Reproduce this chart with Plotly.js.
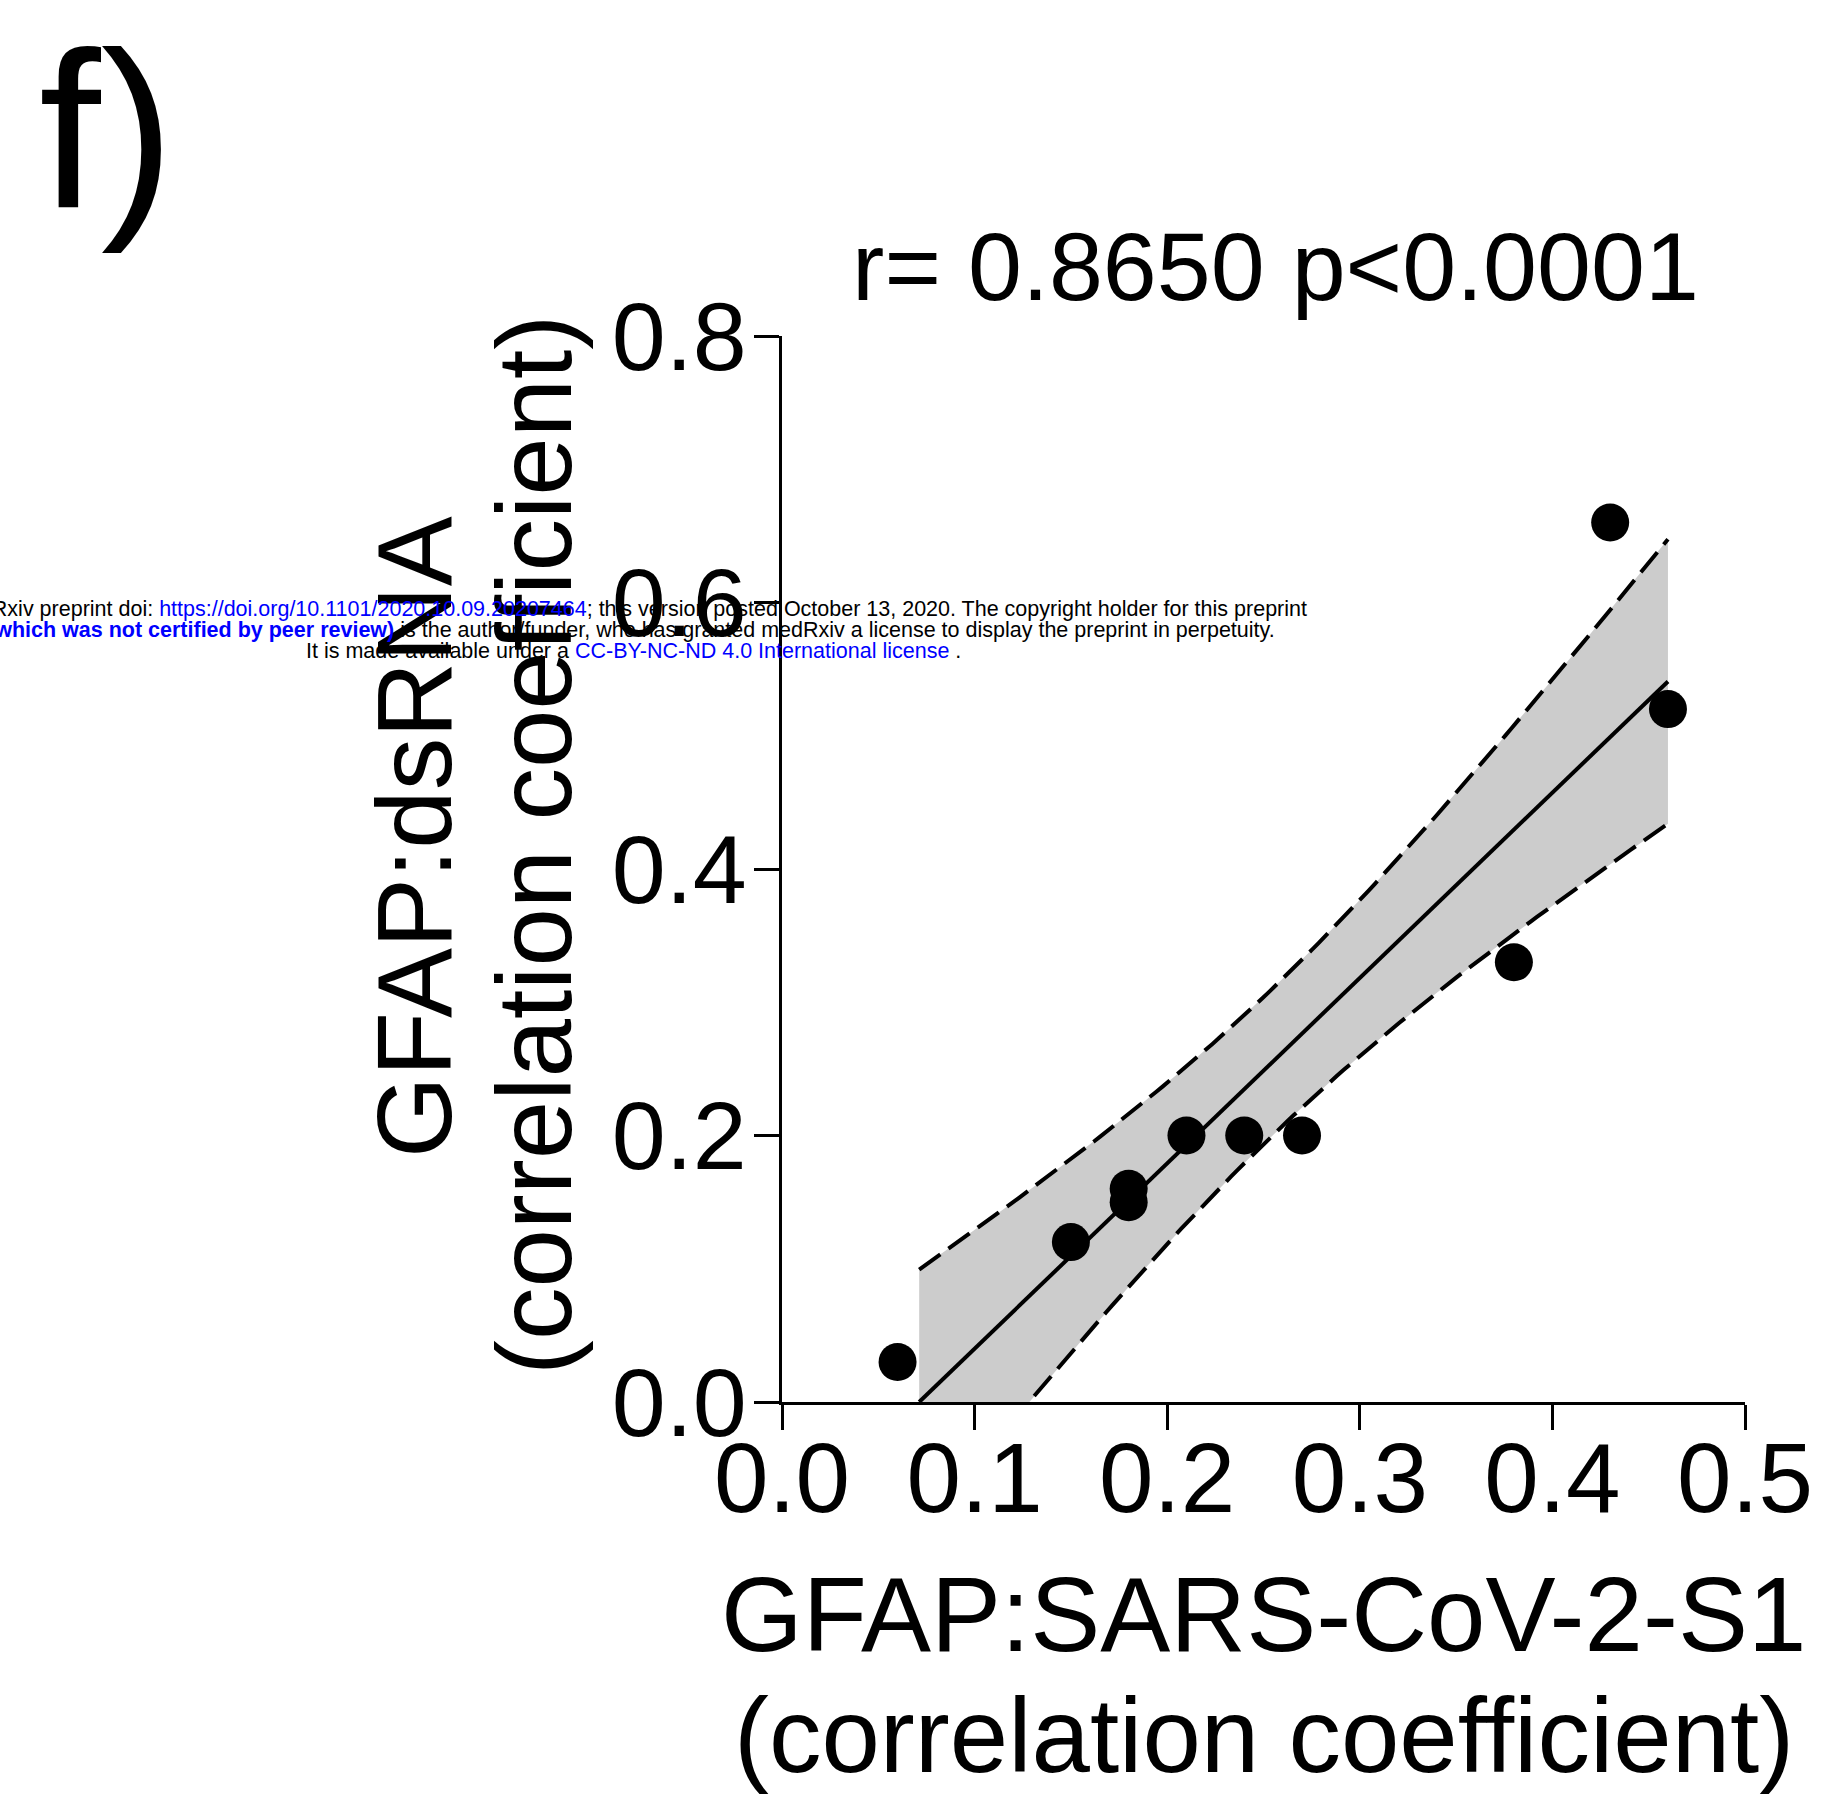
<!DOCTYPE html>
<html>
<head>
<meta charset="utf-8">
<script src="https://cdn.plot.ly/plotly-3.0.1.min.js"></script>
<style>html,body{margin:0;padding:0;background:#fff;}#chart{width:1829px;height:1798px;}</style>
</head>
<body>
<div id="chart"></div>
<script>
// Data
const xVals = [0.06, 0.15, 0.18, 0.18, 0.21, 0.24, 0.27, 0.38, 0.43, 0.46];
const yVals = [0.03, 0.12, 0.16, 0.15, 0.20, 0.20, 0.20, 0.33, 0.66, 0.52];
const titleText = "r= 0.8650 p&lt;0.0001";
const xTitleLines = ["GFAP:SARS-CoV-2-S1", "(correlation coefficient)"];
const yTitleLines = ["GFAP:dsRNA", "(correlation coefficient)"];
const panelLabel = "f)";
const xTickVals = [0, 0.1, 0.2, 0.3, 0.4, 0.5];
const yTickVals = [0, 0.2, 0.4, 0.6, 0.8];

// Linear regression with 95% confidence band of the fit
const n = xVals.length;
const mx = xVals.reduce((a, b) => a + b, 0) / n;
const my = yVals.reduce((a, b) => a + b, 0) / n;
let sxx = 0, sxy = 0;
for (let i = 0; i < n; i++) { sxx += (xVals[i] - mx) ** 2; sxy += (xVals[i] - mx) * (yVals[i] - my); }
const slope = sxy / sxx;
const intercept = my - slope * mx;
let ssr = 0;
for (let i = 0; i < n; i++) { const r = yVals[i] - (intercept + slope * xVals[i]); ssr += r * r; }
const s = Math.sqrt(ssr / (n - 2));
const tCrit = 2.306; // t(0.975, df = 8)
const xStart = Math.max(Math.min(...xVals), -intercept / slope);
const xEnd = Math.max(...xVals);
const bandX = [], fitY = [], upY = [], loY = [];
const N = 120;
for (let k = 0; k <= N; k++) {
  const x = xStart + (xEnd - xStart) * k / N;
  const yh = intercept + slope * x;
  const hw = tCrit * s * Math.sqrt(1 / n + (x - mx) ** 2 / sxx);
  bandX.push(x); fitY.push(yh); upY.push(yh + hw); loY.push(yh - hw);
}

const FONT = "Liberation Sans, Arial, Helvetica, sans-serif";

const traces = [
  { x: bandX.concat(bandX.slice().reverse()), y: upY.concat(loY.slice().reverse()),
    type: "scatter", mode: "lines", fill: "toself", fillcolor: "#cccccc",
    line: { width: 0, color: "rgba(0,0,0,0)" }, hoverinfo: "skip" },
  { x: bandX, y: upY, type: "scatter", mode: "lines",
    line: { color: "#000", width: 4, dash: "26px,10px" } },
  { x: bandX, y: loY, type: "scatter", mode: "lines",
    line: { color: "#000", width: 4, dash: "26px,10px" } },
  { x: [bandX[0], bandX[bandX.length - 1]], y: [fitY[0], fitY[fitY.length - 1]],
    type: "scatter", mode: "lines", line: { color: "#000", width: 4 } },
  { x: xVals, y: yVals, type: "scatter", mode: "markers",
    marker: { color: "#000", size: 38 } }
];

// pixel helpers for annotation placement
const L = 782, T = 336, W = 963, H = 1066;
const px = p => (p - L) / W;
const py = p => (T + H - p) / H;

const wmLine1 = "medRxiv preprint doi: <span style='color:#0000ff'>https://doi.org/10.1101/2020.10.09.20207464</span>; this version posted October 13, 2020. The copyright holder for this preprint";
const wmLine2 = "<b><span style='color:#0000ff'>(which was not certified by peer review)</span></b> is the author/funder, who has granted medRxiv a license to display the preprint in perpetuity.";
const wmLine3 = "It is made available under a <span style='color:#0000ff'>CC-BY-NC-ND 4.0 International license</span> .";

const annotations = [
  { text: panelLabel, xref: "paper", yref: "paper", x: px(37), y: py(130), xanchor: "left", yanchor: "middle",
    showarrow: false, font: { family: FONT, size: 222, color: "#000" } },
  { text: xTitleLines[0], xref: "paper", yref: "paper", x: 0.5, y: py(1614), xanchor: "center", yanchor: "middle",
    showarrow: false, font: { family: FONT, size: 105, color: "#000" } },
  { text: xTitleLines[1], xref: "paper", yref: "paper", x: 0.5, y: py(1735), xanchor: "center", yanchor: "middle",
    showarrow: false, font: { family: FONT, size: 105, color: "#000" } },
  { text: yTitleLines[0], xref: "paper", yref: "paper", x: px(414), y: py(837), xanchor: "center", yanchor: "middle",
    textangle: -90, showarrow: false, font: { family: FONT, size: 105, color: "#000" } },
  { text: yTitleLines[1], xref: "paper", yref: "paper", x: px(534), y: py(845), xanchor: "center", yanchor: "middle",
    textangle: -90, showarrow: false, font: { family: FONT, size: 105, color: "#000" } },
  { text: wmLine1, xref: "paper", yref: "paper", x: px(1309), y: py(609), xanchor: "right", yanchor: "middle",
    showarrow: false, font: { family: FONT, size: 21.5, color: "#000" } },
  { text: wmLine2, xref: "paper", yref: "paper", x: px(1277), y: py(630), xanchor: "right", yanchor: "middle",
    showarrow: false, font: { family: FONT, size: 21.5, color: "#000" } },
  { text: wmLine3, xref: "paper", yref: "paper", x: px(633), y: py(651), xanchor: "center", yanchor: "middle",
    showarrow: false, font: { family: FONT, size: 21.5, color: "#000" } }
];

const layout = {
  width: 1829, height: 1798,
  margin: { l: L, r: 1829 - L - W, t: T, b: 1798 - T - H, pad: 0 },
  paper_bgcolor: "#fff", plot_bgcolor: "#fff",
  showlegend: false,
  font: { family: FONT, color: "#000" },
  title: { text: titleText, font: { family: FONT, size: 97, color: "#000" },
    xref: "paper", x: px(1275.5), xanchor: "center",
    yref: "container", y: 1 - 266 / 1798, yanchor: "middle" },
  xaxis: { range: [0, 0.5], tickvals: xTickVals, tickformat: ".1f",
    showline: true, linecolor: "#000", linewidth: 3, ticks: "outside", ticklen: 25, tickwidth: 3, tickcolor: "#000",
    ticklabelstandoff: -36,
    showgrid: false, zeroline: false, tickfont: { family: FONT, size: 98, color: "#000" }, fixedrange: true },
  yaxis: { range: [0, 0.8], tickvals: yTickVals, tickformat: ".1f",
    showline: true, linecolor: "#000", linewidth: 3, ticks: "outside", ticklen: 25, tickwidth: 3, tickcolor: "#000",
    ticklabelstandoff: -12,
    showgrid: false, zeroline: false, tickfont: { family: FONT, size: 97, color: "#000" }, fixedrange: true },
  annotations: annotations
};

Plotly.newPlot("chart", traces, layout, { displayModeBar: false, staticPlot: true });
</script>
</body>
</html>
